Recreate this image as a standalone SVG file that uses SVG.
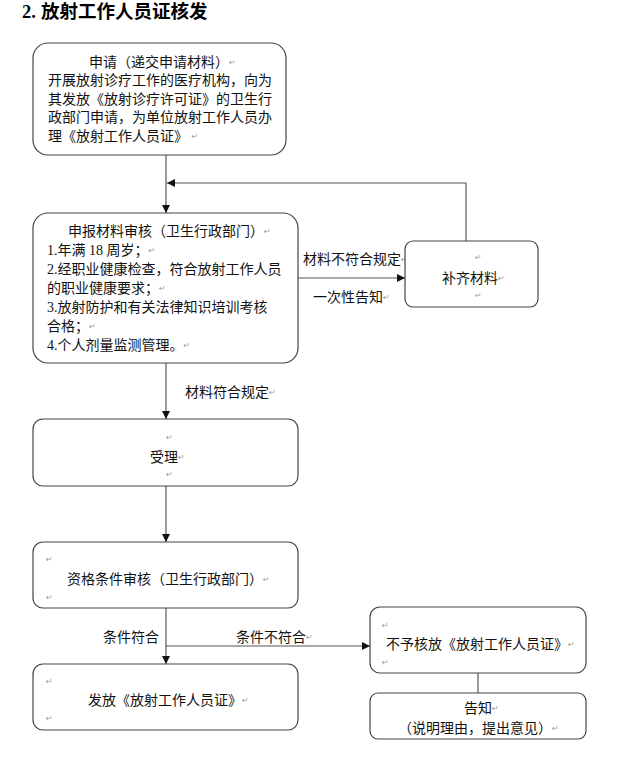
<svg xmlns="http://www.w3.org/2000/svg" width="639" height="768" viewBox="0 0 639 768">
<style>
.box{fill:#fff;stroke:#444;stroke-width:1.2}
.ln{fill:none;stroke:#555;stroke-width:1.2}
.t{font-family:"Liberation Serif","Noto Sans CJK SC",serif;font-size:14px;fill:#111;dominant-baseline:central}
.m{font-family:"DejaVu Sans",sans-serif;font-size:8px;fill:#999}
.title{font-family:"Liberation Serif","Noto Sans CJK SC",serif;font-size:18.5px;font-weight:bold;fill:#000;dominant-baseline:central}
</style>
<defs>
<marker id="ah" viewBox="0 0 10 10" refX="10" refY="5" markerWidth="9" markerHeight="8" markerUnits="userSpaceOnUse" orient="auto">
<path d="M0,0 L10,5 L0,10 z" fill="#111"/>
</marker>
</defs>
<text class="title" x="22" y="12">2.<tspan x="41">放射工作人员证核发</tspan></text>
<g id="connectors">
<line class="ln" x1="166" y1="155" x2="166" y2="213" marker-end="url(#ah)"/>
<polyline class="ln" points="466,241 466,183 167,183" marker-end="url(#ah)"/>
<line class="ln" x1="298" y1="278" x2="405" y2="278" marker-end="url(#ah)"/>
<line class="ln" x1="166" y1="363" x2="166" y2="419" marker-end="url(#ah)"/>
<line class="ln" x1="166" y1="486" x2="166" y2="542" marker-end="url(#ah)"/>
<line class="ln" x1="166" y1="608" x2="166" y2="664" marker-end="url(#ah)"/>
<line class="ln" x1="166" y1="646" x2="370" y2="646" marker-end="url(#ah)"/>
<line class="ln" x1="478" y1="673" x2="478" y2="693"/>
<text class="t" x="303" y="259">材料不符合规定<tspan class="m">↵</tspan></text>
<text class="t" x="313" y="297">一次性告知<tspan class="m">↵</tspan></text>
<text class="t" x="185" y="392">材料符合规定<tspan class="m">↵</tspan></text>
<text class="t" x="103" y="637">条件符合</text>
<text class="t" x="236" y="637">条件不符合<tspan class="m">↵</tspan></text>
</g>
<g id="apply">
<rect class="box" x="33" y="43" width="253" height="112" rx="15"/>
<text class="t" x="89" y="62">申请（递交申请材料）<tspan class="m">↵</tspan></text>
<text class="t" x="48" y="80.5">开展放射诊疗工作的医疗机构，向为</text>
<text class="t" x="48" y="99">其发放《放射诊疗许可证》的卫生行</text>
<text class="t" x="48" y="117.5">政部门申请，为单位放射工作人员办</text>
<text class="t" x="48" y="136">理《放射工作人员证》 <tspan class="m">↵</tspan></text>
</g>
<g id="review">
<rect class="box" x="33" y="213" width="265" height="150" rx="15"/>
<text class="t" x="68" y="231">申报材料审核（卫生行政部门）<tspan class="m">↵</tspan></text>
<text class="t" x="47" y="250">1.年满 18 周岁；<tspan class="m">↵</tspan></text>
<text class="t" x="47" y="269">2.经职业健康检查，符合放射工作人员</text>
<text class="t" x="47" y="288">的职业健康要求；<tspan class="m">↵</tspan></text>
<text class="t" x="47" y="307">3.放射防护和有关法律知识培训考核</text>
<text class="t" x="47" y="326">合格；<tspan class="m">↵</tspan></text>
<text class="t" x="47" y="345">4.个人剂量监测管理。<tspan class="m">↵</tspan></text>
</g>
<g id="supplement">
<rect class="box" x="405" y="241" width="133" height="66" rx="8"/>
<text class="m" x="475" y="260">↵</text>
<text class="t" x="442" y="278">补齐材料<tspan class="m">↵</tspan></text>
<text class="m" x="475" y="298">↵</text>
</g>
<g id="accept">
<rect class="box" x="33" y="419" width="265" height="67" rx="10"/>
<text class="m" x="166" y="440">↵</text>
<text class="t" x="150" y="457">受理<tspan class="m">↵</tspan></text>
<text class="m" x="166" y="477">↵</text>
</g>
<g id="qualify">
<rect class="box" x="33" y="542" width="265" height="66" rx="10"/>
<text class="m" x="46" y="562">↵</text>
<text class="t" x="67" y="579">资格条件审核（卫生行政部门）<tspan class="m">↵</tspan></text>
<text class="m" x="46" y="600">↵</text>
</g>
<g id="issue">
<rect class="box" x="33" y="664" width="265" height="66" rx="10"/>
<text class="m" x="46" y="684">↵</text>
<text class="t" x="88" y="700">发放《放射工作人员证》<tspan class="m">↵</tspan></text>
<text class="m" x="46" y="721">↵</text>
</g>
<g id="reject">
<rect class="box" x="370" y="607" width="216" height="66" rx="10"/>
<text class="m" x="382" y="628">↵</text>
<text class="t" x="386" y="644">不予核放《放射工作人员证》<tspan class="m">↵</tspan></text>
<text class="m" x="382" y="665">↵</text>
</g>
<g id="notify">
<rect class="box" x="370" y="693" width="216" height="46" rx="8"/>
<text class="t" x="464" y="708">告知<tspan class="m">↵</tspan></text>
<text class="t" x="398" y="728">（说明理由，提出意见）<tspan class="m">↵</tspan></text>
</g>
</svg>
